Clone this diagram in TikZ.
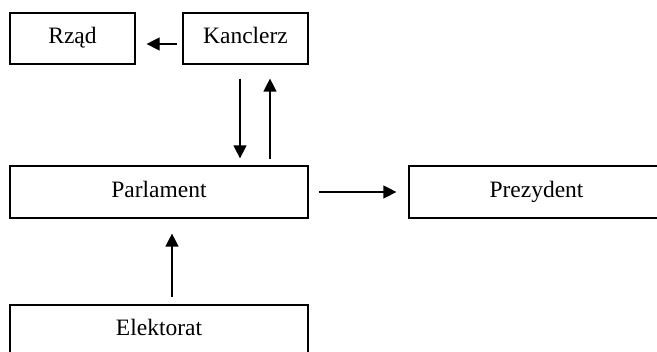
\documentclass[tikz,border=0pt]{standalone}
\usepackage{fontspec}
\setmainfont{Liberation Serif}
\usetikzlibrary{arrows.meta}
\tikzset{
  box/.style={draw=black, line width=1.2pt, rectangle, inner sep=0pt, text height=15.5pt, text depth=5pt, font=\fontsize{23.5}{28}\selectfont},
  arr/.style={line width=1.2pt, -{Triangle[length=13pt,width=13pt]}}
}
\begin{document}
\begin{tikzpicture}[x=1pt,y=1pt]
\useasboundingbox (0,0) rectangle (657,352);
\fill[white] (0,0) rectangle (657,352);
\clip (0,0) rectangle (657,352);
\node[box, minimum width=125pt, minimum height=51pt] (Rzad) at (72.5,313.5) {Rząd};
\node[box, minimum width=125pt, minimum height=51pt] (Kanclerz) at (245.5,313.5) {Kanclerz};
\node[box, minimum width=298pt, minimum height=52pt] (Parlament) at (159,160) {Parlament};
\node[box, minimum width=255pt, minimum height=52pt] (Prezydent) at (536.5,160) {Prezydent};
\node[box, minimum width=298pt, minimum height=50pt] (Elektorat) at (159,22) {Elektorat};
\draw[arr] ([xshift=-5pt,yshift=-5.5pt]Kanclerz.west) -- ([xshift=11pt,yshift=-5.5pt]Rzad.east);
\draw[arr] ([xshift=-5.5pt,yshift=-14pt]Kanclerz.south) -- ([xshift=81pt,yshift=7pt]Parlament.north);
\draw[arr] ([xshift=111pt,yshift=6pt]Parlament.north) -- ([xshift=24.5pt,yshift=-14pt]Kanclerz.south);
\draw[arr] ([xshift=10pt]Parlament.east) -- ([xshift=-12pt]Prezydent.west);
\draw[arr] ([xshift=13pt,yshift=7pt]Elektorat.north) -- ([xshift=13pt,yshift=-15pt]Parlament.south);
\end{tikzpicture}
\end{document}
